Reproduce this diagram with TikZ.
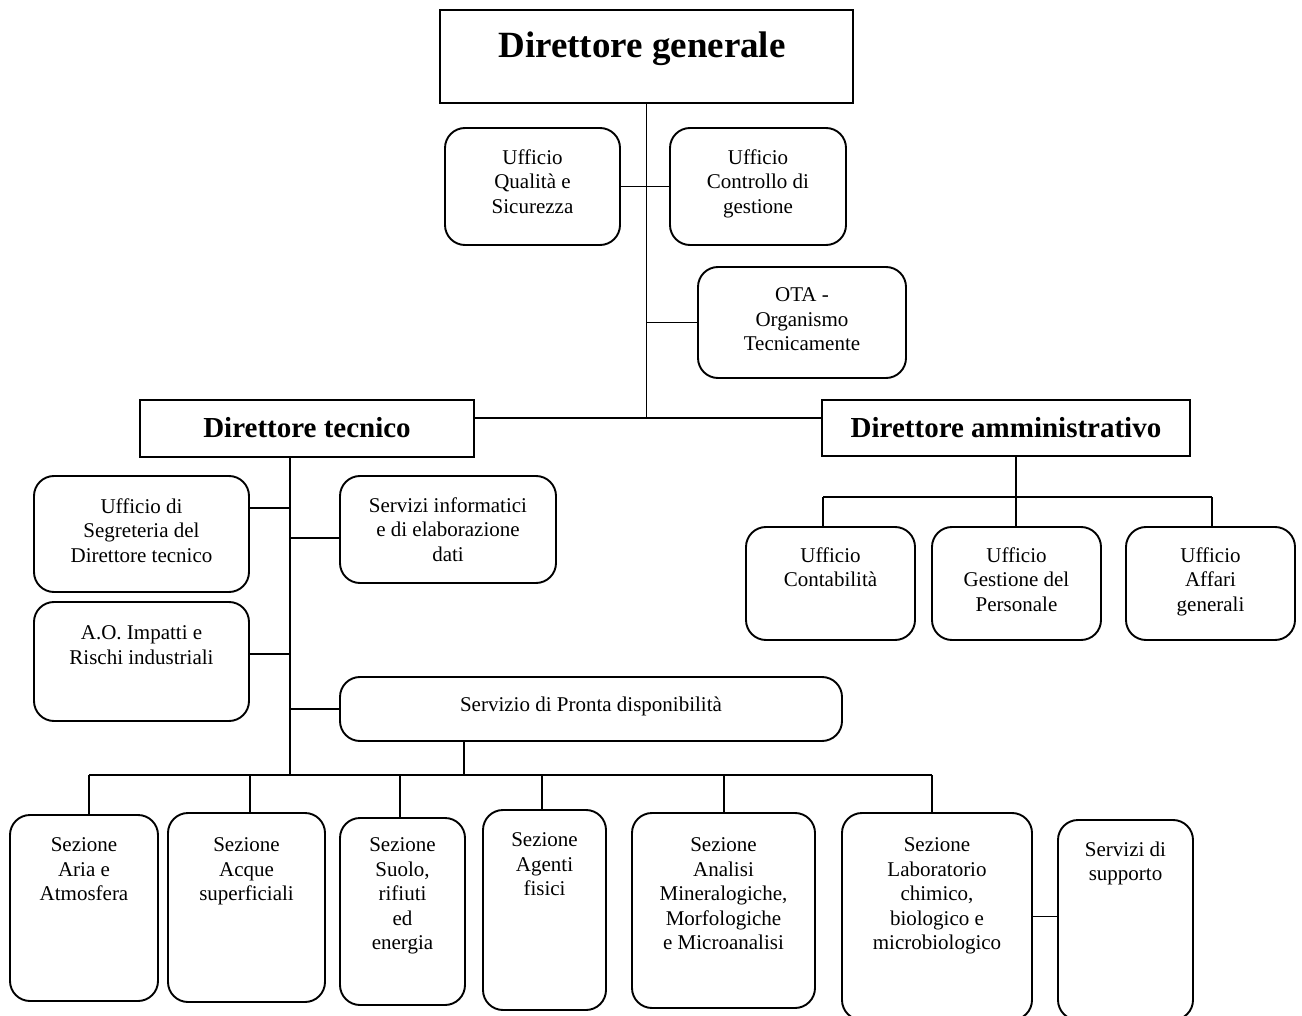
\documentclass[tikz,border=0pt]{standalone}
\usepackage{fontspec}
\setmainfont{Liberation Serif}
\begin{document}
\begin{tikzpicture}[x=1pt,y=-1pt,
  lw/.style={line width=1.9pt},
  sqbox/.style={draw,lw,rectangle,inner sep=0pt,outer sep=0pt},
  rbox/.style={draw,lw,rectangle,rounded corners=20pt,inner sep=0pt,outer sep=0pt},
  txt/.style={font=\fontsize{21}{24.5}\selectfont,align=center,inner sep=0pt,anchor=north},
  btxt/.style={font=\bfseries\fontsize{29}{33}\selectfont,inner sep=0pt,anchor=base},
  conn/.style={lw}]
\useasboundingbox (0,0) rectangle (1302,1016);
% top
\node[sqbox,minimum width=413pt,minimum height=93pt] (dg) at (646.5,56.5) {};
\node[font=\bfseries\fontsize{37}{42}\selectfont,inner sep=0pt,anchor=base] (tdg) at (642,58) {Direttore generale};
\node[rbox,minimum width=175pt,minimum height=117pt] (qs) at (532.5,186.5) {};
\node[txt] (tqs) at (532.5,149.5) {Ufficio\\Qualità e\\Sicurezza};
\node[rbox,minimum width=176pt,minimum height=117pt] (cg) at (758,186.5) {};
\node[txt] (tcg) at (758,149.5) {Ufficio\\Controllo di\\gestione};
\node[rbox,minimum width=208pt,minimum height=111pt] (ota) at (802,322.5) {};
\node[txt] (tota) at (802,287.5) {OTA -\\Organismo\\Tecnicamente};
% directors
\node[sqbox,minimum width=334pt,minimum height=57pt] (dt) at (307,428.5) {};
\node[btxt] (tdt) at (307,437) {Direttore tecnico};
\node[sqbox,minimum width=368pt,minimum height=56pt] (da) at (1006,428) {};
\node[btxt] (tda) at (1006,437) {Direttore amministrativo};
% technical staff
\node[rbox,minimum width=215pt,minimum height=116pt] (seg) at (141.5,534) {};
\node[txt] (tseg) at (141.5,498.5) {Ufficio di\\Segreteria del\\Direttore tecnico};
\node[rbox,minimum width=216pt,minimum height=107pt] (inf) at (448,529.5) {};
\node[txt] (tinf) at (448,497.5) {Servizi informatici\\e di elaborazione\\dati};
\node[rbox,minimum width=215pt,minimum height=119pt] (ao) at (141.5,661.5) {};
\node[txt] (tao) at (141.5,625.5) {A.O. Impatti e\\Rischi industriali};
\node[rbox,minimum width=502pt,minimum height=64pt] (pr) at (591,709) {};
\node[txt] (tpr) at (591,696.5) {Servizio di Pronta disponibilità};
% administrative offices
\node[rbox,minimum width=169pt,minimum height=113pt] (con) at (830.5,583.5) {};
\node[txt] (tcon) at (830.5,547.5) {Ufficio\\Contabilità};
\node[rbox,minimum width=169pt,minimum height=113pt] (ges) at (1016.5,583.5) {};
\node[txt] (tges) at (1016.5,547.5) {Ufficio\\Gestione del\\Personale};
\node[rbox,minimum width=169pt,minimum height=113pt] (aff) at (1210.5,583.5) {};
\node[txt] (taff) at (1210.5,547.5) {Ufficio\\Affari\\generali};
% sections
\node[rbox,minimum width=148pt,minimum height=186pt] (s1) at (84,908) {};
\node[txt] (ts1) at (84,837.5) {Sezione\\Aria e\\Atmosfera};
\node[rbox,minimum width=157pt,minimum height=189pt] (s2) at (246.5,907.5) {};
\node[txt] (ts2) at (246.5,837.5) {Sezione\\Acque\\superficiali};
\node[rbox,minimum width=125pt,minimum height=187pt] (s3) at (402.5,911.5) {};
\node[txt] (ts3) at (402.5,837.5) {Sezione\\Suolo,\\rifiuti\\ed\\energia};
\node[rbox,minimum width=123pt,minimum height=200pt] (s4) at (544.5,910) {};
\node[txt] (ts4) at (544.5,832.5) {Sezione\\Agenti\\fisici};
\node[rbox,minimum width=183pt,minimum height=195pt] (s5) at (723.5,910.5) {};
\node[txt] (ts5) at (723.5,837.5) {Sezione\\Analisi\\Mineralogiche,\\Morfologiche\\e Microanalisi};
\node[rbox,minimum width=190pt,minimum height=207pt] (s6) at (937,916.5) {};
\node[txt] (ts6) at (937,837.5) {Sezione\\Laboratorio\\chimico,\\biologico e\\microbiologico};
\node[rbox,minimum width=135pt,minimum height=200pt] (s7) at (1125.5,920) {};
\node[txt] (ts7) at (1125.5,841.5) {Servizi di\\supporto};
% connectors top
\coordinate (j) at (647,418);
\draw[conn] (dg.south) -- (dg.south |- j);
\draw[conn] (dt.east |- j) -- (da.west |- j);
\draw[conn] (qs.east) -- (cg.west);
\draw[conn] (ota.west) -- (ota.west -| dg.south);
% technical branch
\coordinate (tv) at (290,457);
\coordinate (busL) at (89,775);
\coordinate (busR) at (932,775);
\draw[conn] (tv) -- (tv |- busL);
\draw[conn] (busL) -- (busR);
\draw[conn] ([yshift=-32pt]seg.north east) -- ([yshift=-32pt]seg.north east -| tv);
\draw[conn] ([yshift=-62pt]inf.north west) -- ([yshift=-62pt]inf.north west -| tv);
\draw[conn] ([yshift=-52pt]ao.north east) -- ([yshift=-52pt]ao.north east -| tv);
\draw[conn] (pr.west) -- (pr.west -| tv);
\coordinate (pv) at (464,741);
\draw[conn] (pv) -- (pv |- busL);
\coordinate (d1) at (89,775);
\coordinate (d2) at (250,775);
\coordinate (d3) at (400,775);
\coordinate (d4) at (542,775);
\coordinate (d5) at (724,775);
\coordinate (d6) at (932,775);
\foreach \d/\s in {d1/s1,d2/s2,d3/s3,d4/s4,d5/s5,d6/s6}
  \draw[conn] (\d) -- (\d |- \s.north);
\draw[conn] (s6.east) -- (s6.east -| s7.west);
% administrative branch
\coordinate (av) at (1016,456);
\coordinate (ab) at (1016,497);
\coordinate (e1) at (823,497);
\coordinate (e3) at (1212,497);
\draw[conn] (av) -- (ab);
\draw[conn] (e1) -- (e3);
\draw[conn] (e1) -- (e1 |- con.north);
\draw[conn] (ab) -- (ab |- ges.north);
\draw[conn] (e3) -- (e3 |- aff.north);
\end{tikzpicture}
\end{document}
